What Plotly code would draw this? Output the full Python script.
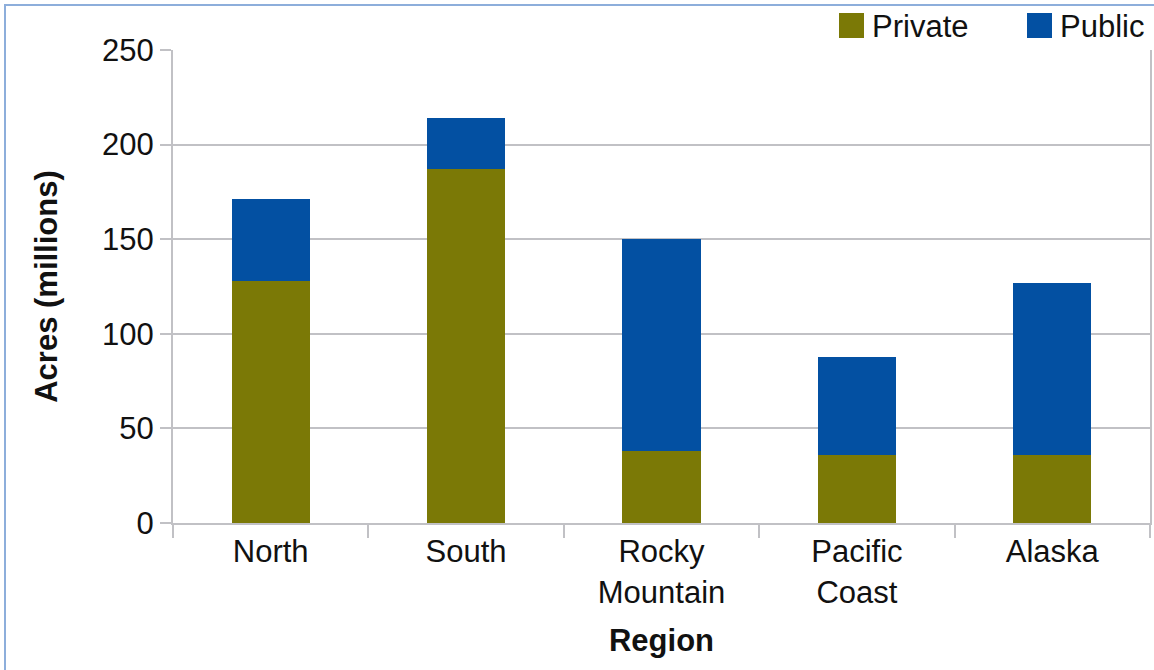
import plotly.graph_objects as go

# Forest land by region, millions of acres
regions = ["North", "South", "Rocky<br>Mountain", "Pacific<br>Coast", "Alaska"]
private_acres = [128, 187, 38, 36, 36]
public_acres = [43, 27, 112, 51.5, 91]

series_names = ["Private", "Public"]
series_colors = ["#7b7906", "#0350a2"]

grid_color = "#c1c1c5"
font_family = "Liberation Sans, Arial, sans-serif"

# plot area in pixels (used only for placing legend / frame in paper coords)
W, H = 1154, 670
L, R, T, B = 173, 1150, 50, 523


def px_x(x):
    return (x - L) / (R - L)


def px_y(y):
    return (B - y) / (B - T)


fig = go.Figure()
fig.add_trace(go.Bar(x=regions, y=private_acres, name=series_names[0],
                     marker=dict(color=series_colors[0], line=dict(width=0))))
fig.add_trace(go.Bar(x=regions, y=public_acres, name=series_names[1],
                     marker=dict(color=series_colors[1], line=dict(width=0))))

# legend swatches and labels
shapes = []
annotations = []
legend_x = [839, 1027]
for name, color, lx in zip(series_names, series_colors, legend_x):
    shapes.append(dict(type="rect", xref="paper", yref="paper",
                       x0=px_x(lx), x1=px_x(lx + 25), y0=px_y(38), y1=px_y(13),
                       fillcolor=color, line=dict(width=0)))
    annotations.append(dict(text=name, xref="paper", yref="paper",
                            x=px_x(lx + 31), y=px_y(26), xanchor="left", yanchor="middle",
                            showarrow=False,
                            font=dict(family=font_family, size=31, color="#111111")))

# light blue outer frame
shapes.append(dict(type="rect", xref="paper", yref="paper", layer="below",
                   x0=px_x(5), x1=px_x(W + 10), y0=px_y(H + 10), y1=px_y(5),
                   line=dict(color="#8daedb", width=2), fillcolor="rgba(0,0,0,0)"))

fig.update_layout(
    barmode="stack",
    bargap=0.6,
    width=W, height=H,
    margin=dict(l=L, r=W - R, t=T, b=H - B, autoexpand=False),
    paper_bgcolor="white",
    plot_bgcolor="white",
    showlegend=False,
    font=dict(family=font_family, size=31, color="#111111"),
    shapes=shapes,
    annotations=annotations,
    xaxis=dict(
        type="category",
        tickson="boundaries",
        ticks="outside", ticklen=13, tickwidth=2, tickcolor=grid_color,
        showline=True, linecolor=grid_color, linewidth=2,
        showgrid=False,
        tickfont=dict(size=31),
        title=dict(text="<b>Region</b>", font=dict(size=31), standoff=21),
    ),
    yaxis=dict(
        range=[0, 250],
        tickvals=[0, 50, 100, 150, 200, 250],
        ticks="outside", ticklen=11, tickwidth=2, tickcolor=grid_color,
        showline=True, mirror=True, linecolor=grid_color, linewidth=2,
        showgrid=True, gridcolor=grid_color, gridwidth=2,
        zeroline=False,
        tickfont=dict(size=31),
        title=dict(text="<b>Acres (millions)</b>", font=dict(size=31), standoff=35),
    ),
)

fig.write_html("out.html")
